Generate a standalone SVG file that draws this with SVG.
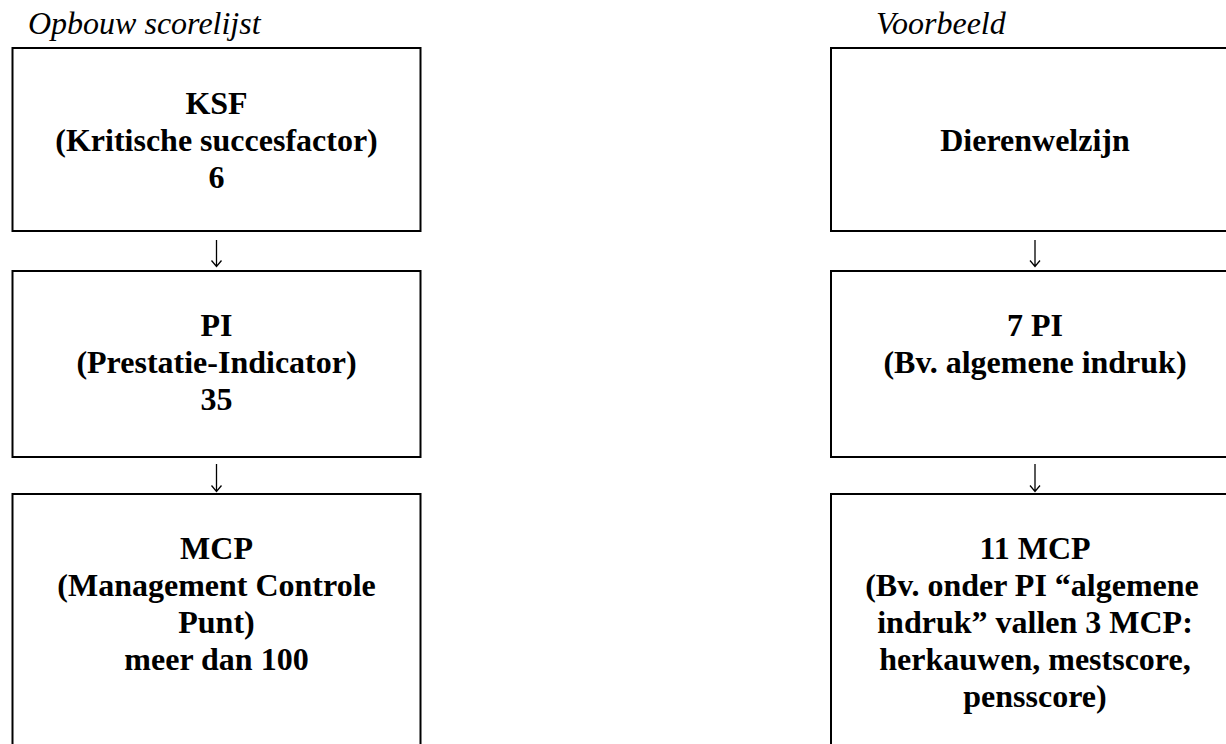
<svg xmlns="http://www.w3.org/2000/svg" width="1226" height="744" viewBox="0 0 1226 744">
<style>
.box{fill:#fff;stroke:#000;stroke-width:2}
.t{font-family:"Liberation Serif","Times New Roman",serif;font-weight:bold;font-size:32px;text-anchor:middle;fill:#000}
.h{font-family:"Liberation Serif","Times New Roman",serif;font-style:italic;font-size:32px;fill:#000}
.c{fill:none;stroke:#000;stroke-width:1.3}
</style>
<rect width="1226" height="744" fill="#fff"/>
<text class="h" x="28" y="34">Opbouw scorelijst</text>
<text class="h" x="876" y="34">Voorbeeld</text>
<g id="ksf">
<rect class="box" x="12.5" y="48" width="408" height="183"/>
<text class="t" x="216.5" y="114">KSF</text>
<text class="t" x="216.5" y="151">(Kritische succesfactor)</text>
<text class="t" x="216.5" y="188">6</text>
</g>
<g id="pi">
<rect class="box" x="12.5" y="271" width="408" height="186"/>
<text class="t" x="216.5" y="336">PI</text>
<text class="t" x="216.5" y="373">(Prestatie-Indicator)</text>
<text class="t" x="216.5" y="410">35</text>
</g>
<g id="mcp">
<rect class="box" x="12.5" y="494" width="408" height="270"/>
<text class="t" x="216.5" y="559">MCP</text>
<text class="t" x="216.5" y="596">(Management Controle</text>
<text class="t" x="216.5" y="633">Punt)</text>
<text class="t" x="216.5" y="670">meer dan 100</text>
</g>
<g id="dierenwelzijn">
<rect class="box" x="831" y="48" width="408" height="183"/>
<text class="t" x="1035" y="151">Dierenwelzijn</text>
</g>
<g id="pi7">
<rect class="box" x="831" y="271" width="408" height="186"/>
<text class="t" x="1035" y="336">7 PI</text>
<text class="t" x="1035" y="373">(Bv. algemene indruk)</text>
</g>
<g id="mcp11">
<rect class="box" x="831" y="494" width="408" height="270"/>
<text class="t" x="1035" y="559">11 MCP</text>
<text class="t" x="1032" y="596">(Bv. onder PI “algemene</text>
<text class="t" x="1035" y="633">indruk” vallen 3 MCP:</text>
<text class="t" x="1035" y="670">herkauwen, mestscore,</text>
<text class="t" x="1035" y="707">pensscore)</text>
</g>
<g id="connectors">
<path class="c" d="M216.5 240V266M211.5 260.5L216.5 266.5L221.5 260.5"/>
<path class="c" d="M216.5 464V491M211.5 485.5L216.5 491.5L221.5 485.5"/>
<path class="c" d="M1035 240V266M1030 260.5L1035 266.5L1040 260.5"/>
<path class="c" d="M1035 464V491M1030 485.5L1035 491.5L1040 485.5"/>
</g>
</svg>
